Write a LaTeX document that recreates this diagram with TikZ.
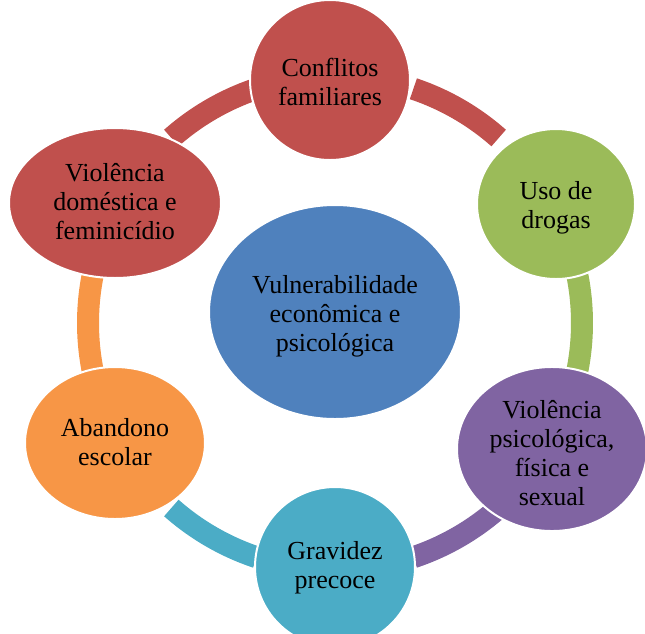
\documentclass[tikz,border=0pt]{standalone}
\usepackage{fontspec}
\setmainfont{Liberation Serif}
\usetikzlibrary{shapes.geometric}
\definecolor{cred}{HTML}{C0504D}
\definecolor{cgreen}{HTML}{9BBB59}
\definecolor{cpurple}{HTML}{8064A2}
\definecolor{ccyan}{HTML}{4BACC6}
\definecolor{corange}{HTML}{F79646}
\definecolor{cblue}{HTML}{4F81BD}
\newcommand{\lowtext}[2]{\raisebox{-#1}[\height][\depth]{\begin{tabular}{@{}c@{}}#2\end{tabular}}}
\tikzset{
  bubble/.style={ellipse, draw=white, line width=2pt, inner sep=0pt, align=center,
    font=\fontsize{26}{29}\selectfont, text=black},
  seg/.style={line width=22pt, line cap=butt}
}
\begin{document}
\begin{tikzpicture}[x=1pt,y=-1pt]
\useasboundingbox (0,0) rectangle (645,633);
\coordinate (ring) at (335,323);
% ring segments (angles negated because y points down)
\draw[seg, cred]    ([shift={(ring)}]-71.5:247) arc[start angle=-71.5, end angle=-48.5, radius=247];
\draw[seg, cgreen]  ([shift={(ring)}]-11.5:247) arc[start angle=-11.5, end angle=11.5, radius=247];
\draw[seg, cpurple] ([shift={(ring)}]48.5:247) arc[start angle=48.5, end angle=71.5, radius=247];
\draw[seg, ccyan]   ([shift={(ring)}]108.5:247) arc[start angle=108.5, end angle=131.5, radius=247];
\draw[seg, corange] ([shift={(ring)}]168.5:247) arc[start angle=168.5, end angle=191.5, radius=247];
\draw[seg, cred]    ([shift={(ring)}]228.5:247) arc[start angle=228.5, end angle=251.5, radius=247];
% nodes
\node[bubble, fill=cblue, minimum width=252pt, minimum height=214pt] (c) at (335,312)
  {\lowtext{5pt}{Vulnerabilidade\\econômica e\\psicológica}};
\node[bubble, fill=cred, minimum width=160pt, minimum height=160pt] (n1) at (330,80)
  {\lowtext{5pt}{Conflitos\\familiares}};
\node[bubble, fill=cgreen, minimum width=158pt, minimum height=150pt] (n2) at (556,204)
  {\lowtext{4pt}{Uso de\\drogas}};
\node[bubble, fill=cpurple, minimum width=190pt, minimum height=136pt] (n3) at (552,449)
  {\lowtext{7pt}{Violência\\psicológica,\\física e\\sexual}};
\node[bubble, fill=ccyan, minimum width=160pt, minimum height=160pt] (n4) at (335,567)
  {\lowtext{1pt}{Gravidez\\precoce}};
\node[bubble, fill=corange, minimum width=180pt, minimum height=152pt] (n5) at (115,443)
  {\lowtext{2pt}{Abandono\\escolar}};
\node[bubble, fill=cred, minimum width=212pt, minimum height=150pt] (n6) at (115,203)
  {\lowtext{2pt}{Violência\\doméstica e\\feminicídio}};
\end{tikzpicture}
\end{document}
